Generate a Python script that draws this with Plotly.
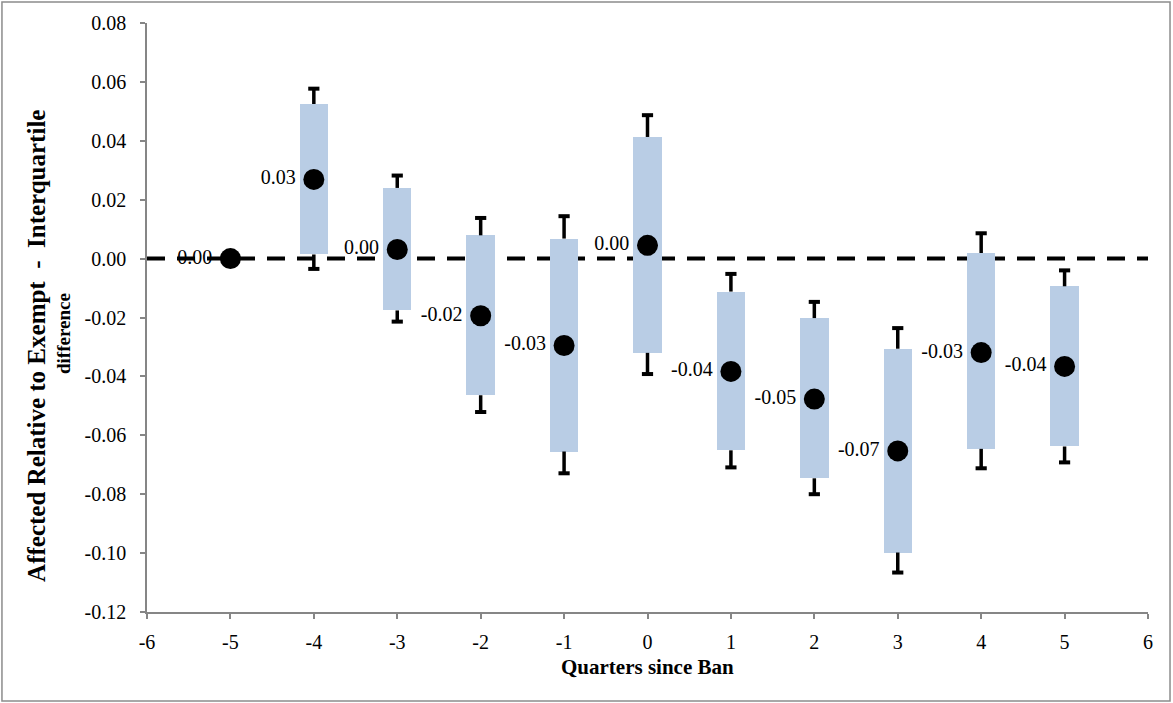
import plotly.graph_objects as go

# ---- data ----
quarters = [-5, -4, -3, -2, -1, 0, 1, 2, 3, 4, 5]
estimate = [0.000, 0.0269, 0.0031, -0.0194, -0.0295, 0.0045, -0.0383, -0.0477, -0.0653, -0.0319, -0.0366]
box_lo = [0.000, 0.0014, -0.0176, -0.0464, -0.0655, -0.0320, -0.0651, -0.0746, -0.0998, -0.0646, -0.0638]
box_hi = [0.000, 0.0525, 0.0240, 0.0079, 0.0068, 0.0413, -0.0112, -0.0202, -0.0306, 0.0019, -0.0094]
ci_lo = [0.000, -0.0035, -0.0214, -0.0521, -0.0729, -0.0392, -0.0709, -0.0800, -0.1066, -0.0712, -0.0692]
ci_hi = [0.000, 0.0577, 0.0282, 0.0138, 0.0144, 0.0487, -0.0052, -0.0147, -0.0236, 0.0086, -0.0040]

y_tickvals = [0.08, 0.06, 0.04, 0.02, 0.00, -0.02, -0.04, -0.06, -0.08, -0.10, -0.12]
x_tickvals = [-6, -5, -4, -3, -2, -1, 0, 1, 2, 3, 4, 5, 6]

FONT = "Liberation Serif"
BOX_COLOR = "#B9CDE5"
AXIS_COLOR = "#868686"

labels = [f"{v:.2f}" for v in estimate]
y_ticktext = [f"{v:.2f}" for v in y_tickvals]
x_ticktext = [str(v) for v in x_tickvals]

fig = go.Figure()

# interquartile boxes
fig.add_trace(go.Bar(
    x=quarters,
    base=box_lo,
    y=[h - l for h, l in zip(box_hi, box_lo)],
    width=0.34,
    marker=dict(color=BOX_COLOR, line=dict(width=0)),
    hoverinfo="skip",
    showlegend=False,
))

# whiskers (outside the boxes)
wx, wy = [], []
cx, cy = [], []
for q, bl, bh, cl, ch in zip(quarters, box_lo, box_hi, ci_lo, ci_hi):
    if ch == cl:
        continue
    wx += [q, q, None, q, q, None]
    wy += [bh, ch, None, bl, cl, None]
    cx += [q, q]
    cy += [ch, cl]

fig.add_trace(go.Scatter(
    x=wx, y=wy, mode="lines",
    line=dict(color="black", width=3.5),
    hoverinfo="skip", showlegend=False,
))
fig.add_trace(go.Scatter(
    x=cx, y=cy, mode="markers",
    marker=dict(symbol="line-ew", size=8, line=dict(color="black", width=4)),
    hoverinfo="skip", showlegend=False,
))

# point estimates with labels
fig.add_trace(go.Scatter(
    x=quarters, y=estimate,
    mode="markers+text",
    marker=dict(color="black", size=21),
    text=[t + "\u2009" for t in labels],
    textposition="middle left",
    textfont=dict(family=FONT, size=20, color="black"),
    hoverinfo="skip", showlegend=False,
))

fig.update_layout(
    width=1173, height=703,
    margin=dict(l=147, r=25, t=23, b=91),
    paper_bgcolor="white",
    plot_bgcolor="white",
    font=dict(family=FONT, color="black"),
    showlegend=False,
    bargap=0,
    shapes=[
        dict(type="line", xref="x", yref="y", x0=-6, x1=6, y0=0, y1=0,
             line=dict(color="black", width=4, dash="18px,12px"), layer="below"),
        dict(type="rect", xref="paper", yref="paper",
             x0=-0.1449, x1=1.022, y0=-0.1511, y1=1.0357,
             line=dict(color="#8C8C8C", width=1.5), fillcolor="rgba(0,0,0,0)"),
    ],
    annotations=[
        dict(text="<b>Affected Relative to Exempt  -  Interquartile</b>",
             xref="paper", yref="paper", x=-0.111, y=0.4516,
             textangle=-90, showarrow=False,
             font=dict(family=FONT, size=25, color="black"),
             xanchor="center", yanchor="middle"),
        dict(text="<b>difference</b>",
             xref="paper", yref="paper", x=-0.0829, y=0.472,
             textangle=-90, showarrow=False,
             font=dict(family=FONT, size=19, color="black"),
             xanchor="center", yanchor="middle"),
        dict(text="<b>Quarters since Ban</b>",
             xref="paper", yref="paper", x=0.5, y=-0.0934,
             showarrow=False,
             font=dict(family=FONT, size=21, color="black"),
             xanchor="center", yanchor="middle"),
    ],
)

fig.update_xaxes(
    range=[-6, 6],
    tickmode="array", tickvals=x_tickvals, ticktext=x_ticktext,
    showgrid=False, zeroline=False,
    showline=True, linecolor=AXIS_COLOR, linewidth=1.5,
    ticks="outside", ticklen=5, tickcolor=AXIS_COLOR, tickwidth=1.5,
    tickfont=dict(family=FONT, size=20, color="black"),
    ticklabelstandoff=6,
)
fig.update_yaxes(
    range=[-0.12, 0.08],
    tickmode="array", tickvals=y_tickvals, ticktext=y_ticktext,
    showgrid=False, zeroline=False,
    showline=True, linecolor=AXIS_COLOR, linewidth=1.5,
    ticks="outside", ticklen=5, tickcolor=AXIS_COLOR, tickwidth=1.5,
    tickfont=dict(family=FONT, size=20, color="black"),
    ticklabelstandoff=10,
)

fig.write_html("out.html", config={"displayModeBar": False},
               post_script="document.body.style.margin='0px';")
